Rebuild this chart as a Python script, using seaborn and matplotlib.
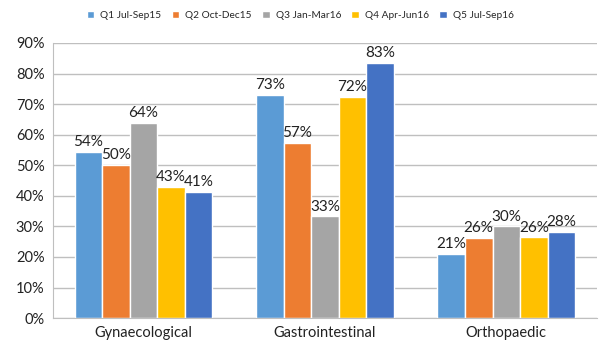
import pandas as pd
import matplotlib
matplotlib.use("Agg")
import matplotlib.pyplot as plt
import seaborn as sns
from matplotlib.ticker import PercentFormatter, FixedLocator

categories = ["Gynaecological", "Gastrointestinal", "Orthopaedic"]
quarters = ["Q1 Jul-Sep15", "Q2 Oct-Dec15", "Q3 Jan-Mar16", "Q4 Apr-Jun16", "Q5 Jul-Sep16"]
q1 = [54.3, 73.0, 21.0]
q2 = [50.0, 57.2, 26.3]
q3 = [63.8, 33.3, 30.0]
q4 = [43.0, 72.3, 26.4]
q5 = [41.3, 83.4, 28.3]
colors = ["#5B9BD5", "#ED7D31", "#A5A5A5", "#FFC000", "#4472C4"]

rows = []
for q, vals in zip(quarters, [q1, q2, q3, q4, q5]):
    for c, v in zip(categories, vals):
        rows.append({"category": c, "quarter": q, "value": v})
df = pd.DataFrame(rows)

sns.set_style("white")
plt.rcParams["font.family"] = ["Lato", "DejaVu Sans"]

fig = plt.figure(figsize=(6, 3.55), dpi=100)
ax = fig.add_axes([0.088, 0.104, 0.907, 0.775])

sns.barplot(data=df, x="category", y="value", hue="quarter", hue_order=quarters,
            palette=colors, width=0.76, saturation=1, ax=ax, legend=True)

for cont in ax.containers:
    ax.bar_label(cont, labels=[f"{round(b.get_height())}%" for b in cont],
                 padding=2, fontsize=11, color="#222222")

ax.set_ylim(0, 90)
ax.set_xlim(-0.5, 2.5)
ax.yaxis.set_major_formatter(PercentFormatter(decimals=0))
ax.set_yticks(range(0, 91, 10))
ax.yaxis.grid(True, color="#BFBFBF", linewidth=1)
ax.set_axisbelow(True)
ax.set_xlabel("")
ax.set_ylabel("")
for s in ["top", "right"]:
    ax.spines[s].set_visible(False)
ax.spines["left"].set_color("#BFBFBF")
ax.spines["bottom"].set_color("#BFBFBF")
ax.tick_params(axis="y", labelsize=10.5, colors="#222222", length=0, pad=6)
ax.tick_params(axis="x", labelsize=10.5, colors="#222222", length=0, pad=6)
ax.xaxis.set_minor_locator(FixedLocator([-0.5, 0.5, 1.5, 2.5]))
ax.tick_params(axis="x", which="minor", length=5, color="#BFBFBF")

handles, labels = ax.get_legend_handles_labels()
ax.legend(handles, labels, loc="center", bbox_to_anchor=(0.455, 1.10), ncol=5,
          frameon=False, fontsize=7.3, handlelength=0.75, handleheight=0.75,
          handletextpad=0.6, columnspacing=1.0)

fig.savefig("out.png", dpi=100)
